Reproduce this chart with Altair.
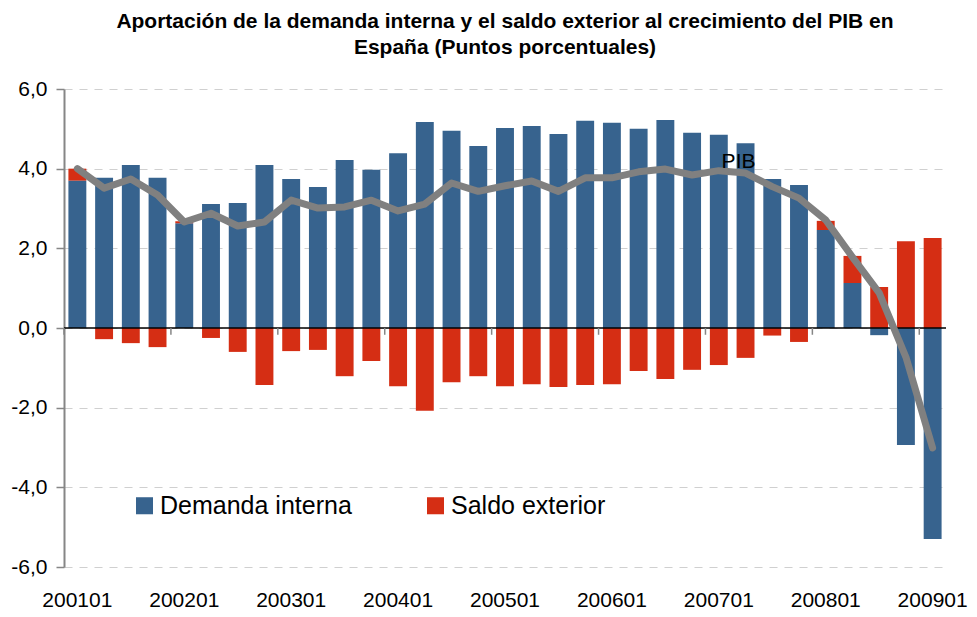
import altair as alt
import pandas as pd

quarters = ["200101", "200102", "200103", "200104",
            "200201", "200202", "200203", "200204",
            "200301", "200302", "200303", "200304",
            "200401", "200402", "200403", "200404",
            "200501", "200502", "200503", "200504",
            "200601", "200602", "200603", "200604",
            "200701", "200702", "200703", "200704",
            "200801", "200802", "200803", "200804",
            "200901"]
demanda = [3.70, 3.77, 4.09, 3.77, 2.63, 3.11, 3.14, 4.09, 3.74, 3.54, 4.22,
           3.97, 4.39, 5.17, 4.95, 4.57, 5.02, 5.07, 4.87, 5.20, 5.15, 5.00,
           5.22, 4.90, 4.85, 4.64, 3.74, 3.59, 2.46, 1.13, -0.18, -2.94, -5.30]
saldo = [0.30, -0.28, -0.38, -0.48, 0.05, -0.25, -0.60, -1.43, -0.58, -0.55,
         -1.21, -0.83, -1.46, -2.08, -1.36, -1.21, -1.46, -1.41, -1.48, -1.43,
         -1.41, -1.08, -1.28, -1.05, -0.93, -0.75, -0.19, -0.35, 0.23, 0.68,
         1.03, 2.18, 2.26]
pib = [4.00, 3.51, 3.74, 3.34, 2.66, 2.88, 2.56, 2.66, 3.21, 3.01, 3.04, 3.21,
       2.94, 3.11, 3.64, 3.43, 3.57, 3.69, 3.43, 3.77, 3.77, 3.92, 3.99, 3.84,
       3.95, 3.89, 3.55, 3.26, 2.71, 1.78, 0.88, -0.73, -3.01]
series_names = ["Demanda interna", "Saldo exterior"]
series_colors = ["#37638E", "#D52E14"]
label_ticks = ["200101", "200201", "200301", "200401", "200501", "200601",
               "200701", "200801", "200901"]
boundary_ticks = ["200101", "200201", "200301", "200401", "200501", "200601",
                  "200701", "200801", "200901"]
pib_label = {"q": "200702", "v": 3.89, "text": "PIB"}

rows = []
for i, q in enumerate(quarters):
    rows.append({"q": q, "serie": series_names[0], "ord": 0, "v": demanda[i]})
    rows.append({"q": q, "serie": series_names[1], "ord": 1, "v": saldo[i]})
bars_df = pd.DataFrame(rows)
pib_df = pd.DataFrame({"q": quarters, "v": pib})
ticks_df = pd.DataFrame({"q": boundary_ticks})
label_df = pd.DataFrame([pib_label])

FONT = "Liberation Sans"

x_enc = alt.X("q:N", sort=quarters, scale=alt.Scale(paddingInner=0.33, paddingOuter=0.165),
              axis=alt.Axis(values=label_ticks, title=None, ticks=False, domain=False,
                            labelAngle=0, labelFontSize=21, labelColor="#000000",
                            labelPadding=22, grid=False, labelFont=FONT))
y_scale = alt.Scale(domain=[-6, 6], nice=False, zero=False)

bars = alt.Chart(bars_df).mark_bar().encode(
    x=x_enc,
    y=alt.Y("sum(v):Q", scale=y_scale, stack="zero",
            axis=alt.Axis(values=[-6, -4, -2, 0, 2, 4, 6], title=None,
                          labelExpr="replace(replace(format(datum.value, '.1f'), '.', ','), '\u2212', '-')",
                          labelFontSize=21, labelColor="#000000", labelFont=FONT,
                          labelPadding=9, tickSize=8, tickColor="#868686",
                          domainColor="#868686", domainWidth=2, tickWidth=1.5,
                          grid=True, gridColor="#D0D0D0", gridDash=[8, 7],
                          gridWidth=1.2)),
    color=alt.Color("serie:N", scale=alt.Scale(domain=series_names, range=series_colors),
                    legend=alt.Legend(title=None, orient="none", direction="horizontal",
                                      legendX=68, legendY=404, symbolType="square",
                                      symbolSize=290, symbolStrokeWidth=0,
                                      labelFontSize=25, labelFont=FONT, labelLimit=400,
                                      labelColor="#000000", columnPadding=71,
                                      labelOffset=3)),
    order=alt.Order("ord:Q"),
)

zero = alt.Chart(pd.DataFrame({"z": [0]})).mark_rule(color="#000000", strokeWidth=1.5).encode(
    y=alt.Y("z:Q", scale=y_scale)
)

xticks = alt.Chart(ticks_df).mark_rule(color="#868686", strokeWidth=1.5, xOffset=-4.4).encode(
    x=alt.X("q:N", sort=quarters, bandPosition=0),
    y=alt.datum(0),
    y2=alt.datum(-0.17),
)

line = alt.Chart(pib_df).mark_line(color="#808080", strokeWidth=7, strokeCap="round",
                                   strokeJoin="round").encode(
    x=alt.X("q:N", sort=quarters, bandPosition=0.5),
    y=alt.Y("v:Q", scale=y_scale),
)

label = alt.Chart(label_df).mark_text(fontSize=21, font=FONT, color="#000000",
                                      baseline="alphabetic", align="center",
                                      dx=-7, dy=-5).encode(
    x=alt.X("q:N", sort=quarters, bandPosition=0.5),
    y=alt.Y("v:Q", scale=y_scale),
    text="text:N",
)

chart = alt.layer(bars, zero, xticks, line, label).properties(
    width=882, height=478,
    autosize=alt.AutoSizeParams(type="none"),
    padding={"left": 56, "top": 81, "right": 23, "bottom": 42},
    title=alt.TitleParams(
        text=["Aportación de la demanda interna y el saldo exterior al crecimiento del PIB en",
              "España (Puntos porcentuales)"],
        fontSize=21, font=FONT, fontWeight="bold", color="#000000",
        anchor="middle", lineHeight=26, offset=20),
).configure_view(stroke=None)

chart.save("out.html", embed_options={"renderer": "svg", "actions": False})
